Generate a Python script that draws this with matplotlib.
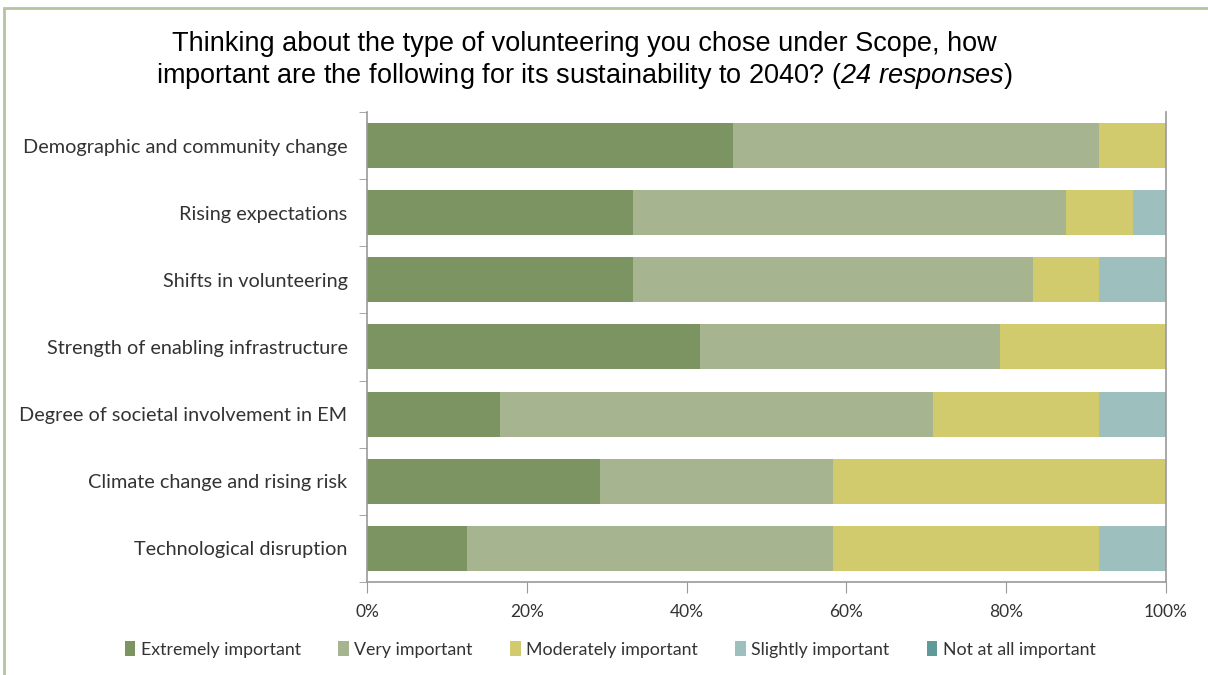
import numpy as np
import matplotlib.pyplot as plt
from matplotlib.patches import Rectangle
from matplotlib.ticker import PercentFormatter

plt.rcParams['font.family'] = ['Lato', 'DejaVu Sans']
plt.rcParams['mathtext.fontset'] = 'custom'
plt.rcParams['mathtext.rm'] = 'Liberation Sans:italic'
plt.rcParams['mathtext.it'] = 'Liberation Sans:italic'

factors = ["Demographic and community change", "Rising expectations", "Shifts in volunteering",
           "Strength of enabling infrastructure", "Degree of societal involvement in EM",
           "Climate change and rising risk", "Technological disruption"]
levels = ["Extremely important", "Very important", "Moderately important",
          "Slightly important", "Not at all important"]
# counts out of 24 responses
extremely = [11, 8, 8, 10, 4, 7, 3]
very = [11, 13, 12, 9, 13, 7, 11]
moderately = [2, 2, 2, 5, 5, 10, 8]
slightly = [0, 1, 2, 0, 2, 0, 2]
not_at_all = [0, 0, 0, 0, 0, 0, 0]
n_responses = 24

colors = ["#7b9462", "#a6b590", "#d2cb6e", "#9dbfbe", "#5f9999"]

fig = plt.figure(figsize=(12.08, 6.75), dpi=100)
ax = fig.add_axes([0.3038, 0.1378, 0.6614, 0.6963])

series = [extremely, very, moderately, slightly, not_at_all]
y = np.arange(len(factors))
left = np.zeros(len(factors))
for vals, lab, col in zip(series, levels, colors):
    share = np.array(vals) / n_responses * 100
    ax.barh(y, share, left=left, height=0.67, color=col, label=lab)
    left += share

ax.set_ylim(len(factors) - 0.5, -0.5)
ax.set_xlim(0, 100)
ax.set_yticks(y)
ax.set_yticklabels(factors, fontsize=14.3, color="#333333")
ax.set_yticks(np.arange(-0.5, len(factors)), minor=True)
ax.tick_params(axis='y', which='major', length=0, pad=14)
ax.tick_params(axis='y', which='minor', length=6, color="#999999", direction='out')
ax.set_xticks(np.arange(0, 101, 20))
ax.xaxis.set_major_formatter(PercentFormatter(decimals=0))
ax.tick_params(axis='x', length=8, color="#999999", labelsize=12.5, labelcolor="#333333", pad=8)
for s in ['left', 'bottom', 'right']:
    ax.spines[s].set_color("#999999")
    ax.spines[s].set_linewidth(1.2)
ax.spines['top'].set_visible(False)

fig.text(0.484, 0.91, "Thinking about the type of volunteering you chose under Scope, how\n"
         "important are the following for its sustainability to 2040? ($\\mathrm{24\\ responses}$)",
         ha='center', va='center', fontsize=19.5, family='Liberation Sans', linespacing=1.2)

fig.legend(loc='center', bbox_to_anchor=(0.505, 0.038), ncol=5, frameon=False, fontsize=12.8,
           handlelength=0.6, handleheight=0.9, handletextpad=0.3, columnspacing=2.1,
           labelcolor="#333333")

# outer frame
fig.patches.append(Rectangle((4 / 1208, -0.05), 1.2, 1 - 8 / 675 + 0.05, transform=fig.transFigure,
                             fill=False, edgecolor="#b4c4a0", linewidth=2))

fig.savefig("out.png", dpi=100)
